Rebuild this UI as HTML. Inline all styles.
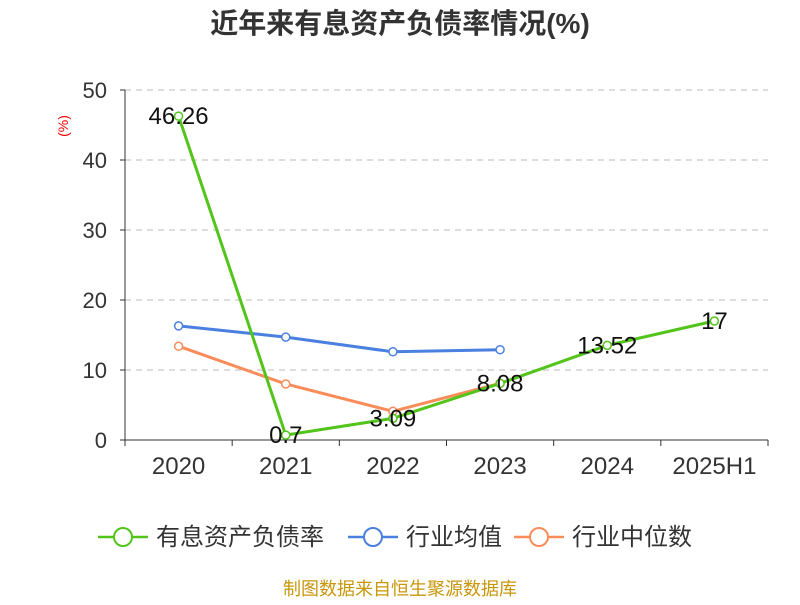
<!DOCTYPE html>
<html><head><meta charset="utf-8"><style>
body{margin:0;background:#fff;font-family:"Liberation Sans","Noto Sans CJK SC",sans-serif;}
</style></head><body>
<svg width="800" height="600" xmlns="http://www.w3.org/2000/svg" font-family="Liberation Sans, Noto Sans CJK SC, sans-serif">
<text x="400" y="33" text-anchor="middle" font-size="28" font-weight="bold" fill="#333">近年来有息资产负债率情况(%)</text>
<text x="68" y="126" text-anchor="middle" font-size="14" fill="#e00" transform="rotate(-90 68 126)">(%)</text>
<g id="grid"></g><g id="axes"></g><g id="series"></g>
<g>
<g><line x1="98" y1="537" x2="148" y2="537" stroke="#52c41a" stroke-width="2.5"/><circle cx="123" cy="537" r="9" fill="#fff" stroke="#52c41a" stroke-width="2"/><text x="156" y="545" font-size="24" fill="#333">有息资产负债率</text></g>
<g><line x1="348" y1="537" x2="398" y2="537" stroke="#4a80e0" stroke-width="2.5"/><circle cx="373" cy="537" r="9" fill="#fff" stroke="#4a80e0" stroke-width="2"/><text x="406" y="545" font-size="24" fill="#333">行业均值</text></g>
<g><line x1="514" y1="537" x2="564" y2="537" stroke="#fa8c5a" stroke-width="2.5"/><circle cx="539" cy="537" r="9" fill="#fff" stroke="#fa8c5a" stroke-width="2"/><text x="572" y="545" font-size="24" fill="#333">行业中位数</text></g>
</g>
<text x="400" y="595" text-anchor="middle" font-size="18" fill="#c8960a">制图数据来自恒生聚源数据库</text>
</svg>
<script>
const categories=["2020","2021","2022","2023","2024","2025H1"];
const debtRatio=[46.26,0.7,3.09,8.08,13.52,17];
const debtLabels=["46.26","0.7","3.09","8.08","13.52","17"];
const industryAvg=[16.3,14.7,12.6,12.9,null,null];
const industryMedian=[13.4,8.0,4.1,8.1,null,null];
const yTicks=[0,10,20,30,40,50];
const NS="http://www.w3.org/2000/svg";
const x0=125,x1=768,y0=440,y1=90,yMax=50;
const bw=(x1-x0)/categories.length;
const xs=i=>x0+bw*(i+0.5);
const ys=v=>y0-(v/yMax)*(y0-y1);
function mk(p,t,a){const e=document.createElementNS(NS,t);for(const k in a)e.setAttribute(k,a[k]);p.appendChild(e);return e;}
const grid=document.getElementById('grid'),axes=document.getElementById('axes'),ser=document.getElementById('series');
yTicks.forEach(t=>{
 if(t>0){const l=mk(grid,'line',{x1:x0,x2:x1,y1:ys(t),y2:ys(t),stroke:'#bbb','stroke-dasharray':'6,5'});
 
 }
 const tk=mk(axes,'line',{x1:x0-5,x2:x0,y1:ys(t),y2:ys(t),stroke:'#333'});
 
 
 const tx=mk(axes,'text',{x:x0-18,y:ys(t)+8,'text-anchor':'end','font-size':22,fill:'#333'});tx.textContent=t;
 
 
});
const ya=mk(axes,'line',{x1:x0,x2:x0,y1:y1,y2:y0,stroke:'#333'});


const xa=mk(axes,'line',{x1:x0,x2:x1,y1:y0,y2:y0,stroke:'#333'});


for(let i=0;i<=categories.length;i++){const t=mk(axes,'line',{x1:x0+bw*i,x2:x0+bw*i,y1:y0,y2:y0+6,stroke:'#333'});
 
 }
categories.forEach((c,i)=>{const t=mk(axes,'text',{x:xs(i),y:y0+34,'text-anchor':'middle','font-size':24,fill:'#333'});t.textContent=c;
 
 });
function series(vals,color,name,labels){
 const g=mk(ser,'g',{});
 
 
 const pts=vals.map((v,i)=>v==null?null:[xs(i),ys(v)]).filter(p=>p);
 const pl=mk(g,'polyline',{points:pts.map(p=>p.join(',')).join(' '),fill:'none',stroke:color,'stroke-width':3});
 
 
 vals.forEach((v,i)=>{if(v==null)return;
  const c=mk(g,'circle',{cx:xs(i),cy:ys(v),r:4,fill:'#fff',stroke:color,'stroke-width':1.5});
  
  
  if(labels){const t=mk(g,'text',{x:xs(i),y:ys(v)+8,'text-anchor':'middle','font-size':24,fill:'#111'});t.textContent=labels[i];
  
  }
 });
}
series(industryAvg,'#4a80e0','industry-avg-series');
series(industryMedian,'#fa8c5a','industry-median-series');
series(debtRatio,'#52c41a','debt-ratio-series',debtLabels);
</script>
</body></html>
